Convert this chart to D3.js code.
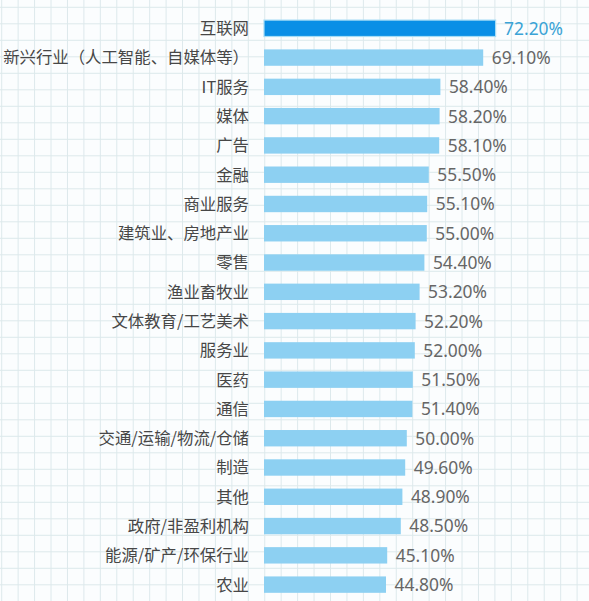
<!DOCTYPE html>
<html>
<head>
<meta charset="utf-8">
<script src="https://cdn.jsdelivr.net/npm/d3@7"></script>
<style>
  html, body { margin: 0; padding: 0; background: #fbfdfe; }
  svg { display: block; }
</style>
</head>
<body>
<svg id="chart" width="589" height="601"></svg>
<script>
// 行业名称
const categories = [
  "互联网", "新兴行业（人工智能、自媒体等）", "IT服务", "媒体", "广告",
  "金融", "商业服务", "建筑业、房地产业", "零售", "渔业畜牧业",
  "文体教育/工艺美术", "服务业", "医药", "通信", "交通/运输/物流/仓储",
  "制造", "其他", "政府/非盈利机构", "能源/矿产/环保行业", "农业"
];
// 百分比
const values = [
  72.2, 69.1, 58.4, 58.2, 58.1,
  55.5, 55.1, 55.0, 54.4, 53.2,
  52.2, 52.0, 51.5, 51.4, 50.0,
  49.6, 48.9, 48.5, 45.1, 44.8
];
const valueLabels = values.map((v) => v.toFixed(2) + "%");

const svg = d3.select("#chart"),
  width = +svg.attr("width"),
  height = +svg.attr("height");

// background grid (notebook paper look)
const grid = svg.append("g").attr("class", "grid");
grid.selectAll("line.v")
  .data(d3.range(1.7, width, 16.44))
  .enter().append("line")
  .attr("class", "v")
  .attr("x1", (d) => d).attr("x2", (d) => d)
  .attr("y1", 0).attr("y2", height)
  .attr("stroke", "#dde9ec").attr("stroke-width", 1);
grid.selectAll("line.h")
  .data(d3.range(7.3, height, 16.5))
  .enter().append("line")
  .attr("class", "h")
  .attr("y1", (d) => d).attr("y2", (d) => d)
  .attr("x1", 0).attr("x2", width)
  .attr("stroke", "#dde9ec").attr("stroke-width", 1);

// the picture's bars are not drawn from zero
const x = d3.scaleLinear().domain([14.3, 80]).range([264, 526.8]);
const y = d3.scaleBand()
  .domain(categories)
  .range([13.66, 599.26])
  .paddingInner(0.44)
  .paddingOuter(0.22);

const rows = svg.append("g").attr("class", "rows")
  .selectAll("g")
  .data(categories.map((c, i) => ({ cat: c, value: values[i], label: valueLabels[i], i: i })))
  .enter().append("g");

rows.append("rect")
  .attr("x", x.range()[0])
  .attr("y", (d) => y(d.cat))
  .attr("width", (d) => x(d.value) - x.range()[0])
  .attr("height", y.bandwidth())
  .attr("fill", (d) => (d.i === 0 ? "#0a8fe6" : "#8dd0f2"))
  .attr("stroke", (d) => (d.i === 0 ? "#a6dcf5" : "none"))
  .attr("stroke-width", 1.2);

rows.append("text")
  .attr("x", 249)
  .attr("y", (d) => y(d.cat) + y.bandwidth() / 2)
  .attr("dy", "0.36em")
  .attr("text-anchor", "end")
  .attr("font-family", "'Noto Sans CJK SC', 'Noto Sans', sans-serif")
  .attr("font-size", "16.4px")
  .attr("fill", "#474747")
  .text((d) => d.cat);

rows.append("text")
  .attr("x", (d) => x(d.value) + 8.5)
  .attr("y", (d) => y(d.cat) + y.bandwidth() / 2)
  .attr("dy", "0.37em")
  .attr("font-family", "'Noto Sans', 'Noto Sans CJK SC', sans-serif")
  .attr("font-size", "17.4px")
  .attr("fill", (d) => (d.i === 0 ? "#3aa3d6" : "#666666"))
  .text((d) => d.label);
</script>
</body>
</html>
